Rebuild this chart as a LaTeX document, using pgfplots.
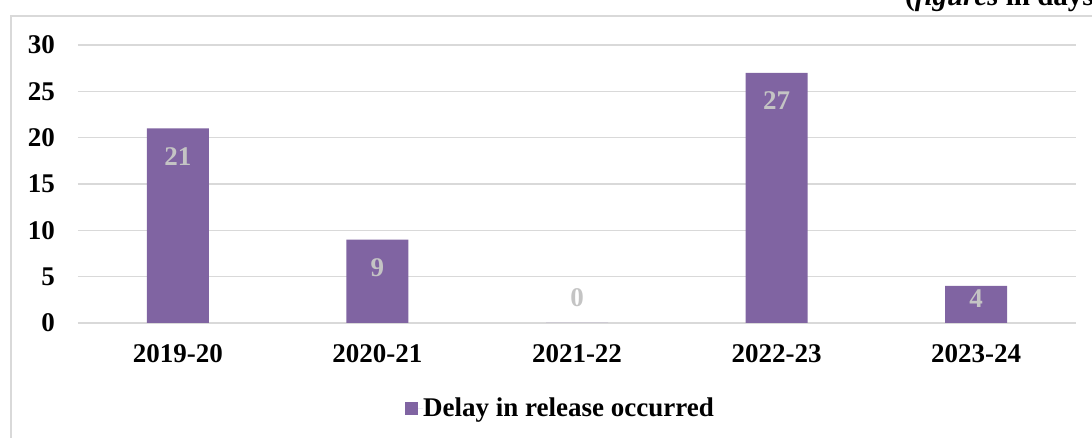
\documentclass[border=0pt]{standalone}
\usepackage{fontspec}
\setmainfont{Liberation Serif}
\usepackage{pgfplots}
\pgfplotsset{compat=1.18}
\usepackage{pgfplotstable}

\definecolor{barpurple}{HTML}{8064A2}
\definecolor{labelgray}{HTML}{C4C4C4}
\definecolor{gridgray}{HTML}{D9D9D9}

% year, delay (days), vertical offset of the value label (pt)
\pgfplotstableread{
x  y   off
0  21  -28
1  9   -28
2  0   25
3  27  -28
4  4   -13
}\delaydata

\begin{document}
\begin{tikzpicture}[x=1pt,y=1pt]
\useasboundingbox (0,0) rectangle (1092,438);
\clip (0,0) rectangle (1092,438);
% chart frame
\draw[gridgray, line width=1.8pt] (11,-10) -- (11,422) -- (1110,422);
% unit note
\node[anchor=base west, inner sep=0pt, font=\fontsize{29}{34}\selectfont\bfseries]
  at (905,432) {(\textit{figures} in days)};
\begin{axis}[
  at={(78pt,115pt)}, anchor=south west,
  scale only axis, width=998pt, height=278pt,
  font=\fontsize{27}{32}\selectfont\bfseries,
  /pgf/number format/assume math mode=true,
  xmin=-0.5, xmax=4.5,
  ymin=0, ymax=30,
  ytick={0,5,...,30},
  xtick={0,1,2,3,4},
  xticklabels={2019-20,2020-21,2021-22,2022-23,2023-24},
  axis line style={draw=none},
  major tick length=0pt,
  ymajorgrids,
  grid style={gridgray, line width=1.3pt},
  yticklabel style={anchor=east, inner sep=0pt, xshift=-23pt},
  xticklabel style={anchor=north, inner sep=0pt, yshift=-21pt},
  legend style={at={(0.4825,-0.306)}, anchor=center, draw=none, fill=none,
    inner sep=0pt, outer sep=0pt,
    nodes={inner sep=0pt, anchor=west}},
  legend image code/.code={
    \fill[barpurple] (0pt,-6.5pt) rectangle (13pt,6.5pt);
    \path (0pt,0pt) -- (18pt,0pt);},
  clip=false,
]
\addplot[ybar, bar width=62pt, fill=barpurple, draw=none,
  visualization depends on={\thisrow{off} \as \labeloff},
  nodes near coords,
  every node near coord/.append style={anchor=center, text=labelgray,
    yshift=\labeloff pt},
] table[x=x, y=y] {\delaydata};
\addlegendentry{Delay in release occurred}
\end{axis}
\end{tikzpicture}
\end{document}
